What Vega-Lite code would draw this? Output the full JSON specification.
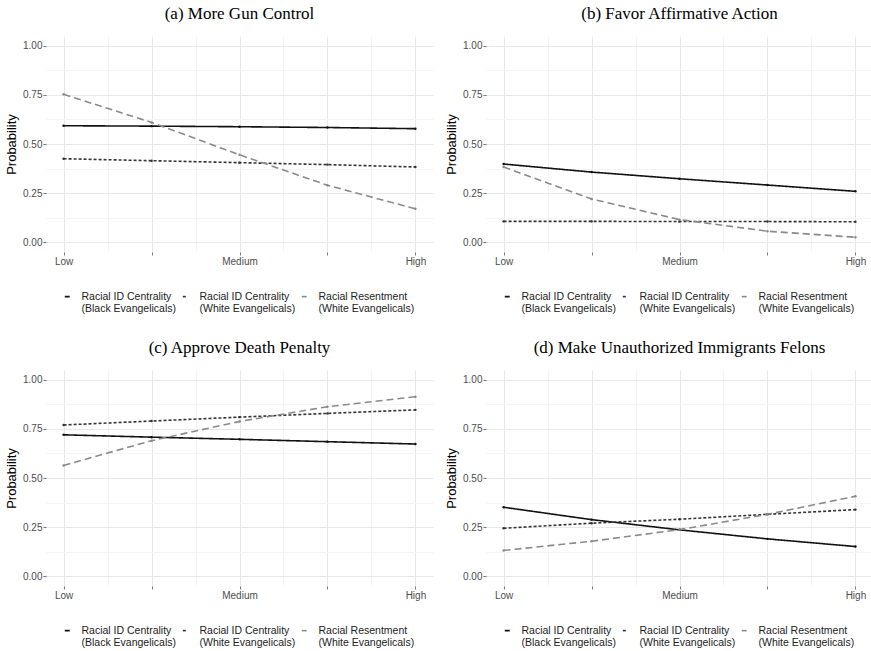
{
  "$schema": "https://vega.github.io/schema/vega-lite/v6.json",
  "padding": {"left": 5, "top": 5, "right": 0, "bottom": 0},
  "background": "white",
  "config": {
    "view": {"stroke": null},
    "title": {"font": "Liberation Serif", "fontSize": 17, "fontWeight": "normal", "color": "#000", "offset": 13},
    "axis": {"labelFont": "Liberation Sans", "labelFontSize": 10, "labelColor": "#4d4d4d", "titleFont": "Liberation Sans", "titleFontSize": 13, "titleFontWeight": "normal", "titleColor": "#000", "domain": false, "tickColor": "#777", "tickSize": 3, "labelOverlap": false, "labelFlush": false},
    "legend": {"symbolType": "stroke", "columnPadding": 2, "labelOffset": 9, "symbolSize": 24, "symbolStrokeWidth": 1.6, "labelFontSize": 10.5, "labelFont": "Liberation Sans", "labelColor": "#222", "labelLimit": 200, "padding": 0}
  },
  "data": {"values": [
    {"panel": "a", "level": 1, "series": "Racial ID Centrality|(Black Evangelicals)", "value": 0.593},
    {"panel": "a", "level": 2, "series": "Racial ID Centrality|(Black Evangelicals)", "value": 0.591},
    {"panel": "a", "level": 3, "series": "Racial ID Centrality|(Black Evangelicals)", "value": 0.588},
    {"panel": "a", "level": 4, "series": "Racial ID Centrality|(Black Evangelicals)", "value": 0.584},
    {"panel": "a", "level": 5, "series": "Racial ID Centrality|(Black Evangelicals)", "value": 0.578},
    {"panel": "a", "level": 1, "series": "Racial ID Centrality|(White Evangelicals)", "value": 0.425},
    {"panel": "a", "level": 2, "series": "Racial ID Centrality|(White Evangelicals)", "value": 0.415},
    {"panel": "a", "level": 3, "series": "Racial ID Centrality|(White Evangelicals)", "value": 0.405},
    {"panel": "a", "level": 4, "series": "Racial ID Centrality|(White Evangelicals)", "value": 0.395},
    {"panel": "a", "level": 5, "series": "Racial ID Centrality|(White Evangelicals)", "value": 0.383},
    {"panel": "a", "level": 1, "series": "Racial Resentment|(White Evangelicals)", "value": 0.753},
    {"panel": "a", "level": 2, "series": "Racial Resentment|(White Evangelicals)", "value": 0.61},
    {"panel": "a", "level": 3, "series": "Racial Resentment|(White Evangelicals)", "value": 0.445},
    {"panel": "a", "level": 4, "series": "Racial Resentment|(White Evangelicals)", "value": 0.29},
    {"panel": "a", "level": 5, "series": "Racial Resentment|(White Evangelicals)", "value": 0.17},
    {"panel": "b", "level": 1, "series": "Racial ID Centrality|(Black Evangelicals)", "value": 0.398},
    {"panel": "b", "level": 2, "series": "Racial ID Centrality|(Black Evangelicals)", "value": 0.357},
    {"panel": "b", "level": 3, "series": "Racial ID Centrality|(Black Evangelicals)", "value": 0.323},
    {"panel": "b", "level": 4, "series": "Racial ID Centrality|(Black Evangelicals)", "value": 0.291},
    {"panel": "b", "level": 5, "series": "Racial ID Centrality|(Black Evangelicals)", "value": 0.259},
    {"panel": "b", "level": 1, "series": "Racial ID Centrality|(White Evangelicals)", "value": 0.106},
    {"panel": "b", "level": 2, "series": "Racial ID Centrality|(White Evangelicals)", "value": 0.106},
    {"panel": "b", "level": 3, "series": "Racial ID Centrality|(White Evangelicals)", "value": 0.105},
    {"panel": "b", "level": 4, "series": "Racial ID Centrality|(White Evangelicals)", "value": 0.105},
    {"panel": "b", "level": 5, "series": "Racial ID Centrality|(White Evangelicals)", "value": 0.104},
    {"panel": "b", "level": 1, "series": "Racial Resentment|(White Evangelicals)", "value": 0.383},
    {"panel": "b", "level": 2, "series": "Racial Resentment|(White Evangelicals)", "value": 0.22},
    {"panel": "b", "level": 3, "series": "Racial Resentment|(White Evangelicals)", "value": 0.115},
    {"panel": "b", "level": 4, "series": "Racial Resentment|(White Evangelicals)", "value": 0.056},
    {"panel": "b", "level": 5, "series": "Racial Resentment|(White Evangelicals)", "value": 0.025},
    {"panel": "c", "level": 1, "series": "Racial ID Centrality|(Black Evangelicals)", "value": 0.72},
    {"panel": "c", "level": 2, "series": "Racial ID Centrality|(Black Evangelicals)", "value": 0.708},
    {"panel": "c", "level": 3, "series": "Racial ID Centrality|(Black Evangelicals)", "value": 0.697},
    {"panel": "c", "level": 4, "series": "Racial ID Centrality|(Black Evangelicals)", "value": 0.685},
    {"panel": "c", "level": 5, "series": "Racial ID Centrality|(Black Evangelicals)", "value": 0.673},
    {"panel": "c", "level": 1, "series": "Racial ID Centrality|(White Evangelicals)", "value": 0.77},
    {"panel": "c", "level": 2, "series": "Racial ID Centrality|(White Evangelicals)", "value": 0.79},
    {"panel": "c", "level": 3, "series": "Racial ID Centrality|(White Evangelicals)", "value": 0.81},
    {"panel": "c", "level": 4, "series": "Racial ID Centrality|(White Evangelicals)", "value": 0.829},
    {"panel": "c", "level": 5, "series": "Racial ID Centrality|(White Evangelicals)", "value": 0.847},
    {"panel": "c", "level": 1, "series": "Racial Resentment|(White Evangelicals)", "value": 0.564},
    {"panel": "c", "level": 2, "series": "Racial Resentment|(White Evangelicals)", "value": 0.69},
    {"panel": "c", "level": 3, "series": "Racial Resentment|(White Evangelicals)", "value": 0.788},
    {"panel": "c", "level": 4, "series": "Racial Resentment|(White Evangelicals)", "value": 0.863},
    {"panel": "c", "level": 5, "series": "Racial Resentment|(White Evangelicals)", "value": 0.914},
    {"panel": "d", "level": 1, "series": "Racial ID Centrality|(Black Evangelicals)", "value": 0.351},
    {"panel": "d", "level": 2, "series": "Racial ID Centrality|(Black Evangelicals)", "value": 0.288},
    {"panel": "d", "level": 3, "series": "Racial ID Centrality|(Black Evangelicals)", "value": 0.236},
    {"panel": "d", "level": 4, "series": "Racial ID Centrality|(Black Evangelicals)", "value": 0.19},
    {"panel": "d", "level": 5, "series": "Racial ID Centrality|(Black Evangelicals)", "value": 0.151},
    {"panel": "d", "level": 1, "series": "Racial ID Centrality|(White Evangelicals)", "value": 0.244},
    {"panel": "d", "level": 2, "series": "Racial ID Centrality|(White Evangelicals)", "value": 0.27},
    {"panel": "d", "level": 3, "series": "Racial ID Centrality|(White Evangelicals)", "value": 0.29},
    {"panel": "d", "level": 4, "series": "Racial ID Centrality|(White Evangelicals)", "value": 0.315},
    {"panel": "d", "level": 5, "series": "Racial ID Centrality|(White Evangelicals)", "value": 0.339},
    {"panel": "d", "level": 1, "series": "Racial Resentment|(White Evangelicals)", "value": 0.131},
    {"panel": "d", "level": 2, "series": "Racial Resentment|(White Evangelicals)", "value": 0.178},
    {"panel": "d", "level": 3, "series": "Racial Resentment|(White Evangelicals)", "value": 0.237},
    {"panel": "d", "level": 4, "series": "Racial Resentment|(White Evangelicals)", "value": 0.315},
    {"panel": "d", "level": 5, "series": "Racial Resentment|(White Evangelicals)", "value": 0.407}
  ]},
  "columns": 2,
  "spacing": {"row": 24, "column": 12},
  "resolve": {"scale": {"color": "independent", "strokeDash": "independent"}},
  "concat": [
    {
      "title": "(a) More Gun Control",
      "width": 387, "height": 216,
      "transform": [{"filter": "datum.panel == 'a'"}],
      "encoding": {
        "x": {"field": "level", "type": "quantitative", "scale": {"domain": [0.8, 5.2], "nice": false, "zero": false},
          "axis": {"title": null, "values": [1, 1.5, 2, 2.5, 3, 3.5, 4, 4.5, 5], "labelExpr": "datum.value == 1 ? 'Low' : datum.value == 3 ? 'Medium' : datum.value == 5 ? 'High' : ''", "labelPadding": 1,
            "tickOpacity": {"condition": {"test": "datum.value % 1 != 0", "value": 0}, "value": 1},
            "gridColor": {"condition": {"test": "datum.value % 1 != 0", "value": "#f4f4f4"}, "value": "#e8e8e8"}}},
        "y": {"field": "value", "type": "quantitative", "scale": {"domain": [-0.05, 1.05], "nice": false, "zero": false},
          "axis": {"title": "Probability", "values": [0, 0.125, 0.25, 0.375, 0.5, 0.625, 0.75, 0.875, 1], "labelExpr": "(datum.value * 4) % 1 == 0 ? format(datum.value, '.2f') : ''", "labelPadding": 1, "titlePadding": 4,
            "tickOpacity": {"condition": {"test": "(datum.value * 4) % 1 != 0", "value": 0}, "value": 1},
            "gridColor": {"condition": {"test": "(datum.value * 4) % 1 != 0", "value": "#f4f4f4"}, "value": "#e8e8e8"}}},
        "color": {"field": "series", "type": "nominal", "scale": {"domain": ["Racial ID Centrality|(Black Evangelicals)", "Racial ID Centrality|(White Evangelicals)", "Racial Resentment|(White Evangelicals)"], "range": ["#111111", "#333333", "#8a8a8a"]},
          "legend": {"title": null, "orient": "none", "legendX": 16, "legendY": 255, "direction": "horizontal", "labelExpr": "split(datum.label, '|')"}},
        "strokeDash": {"field": "series", "type": "nominal", "scale": {"domain": ["Racial ID Centrality|(Black Evangelicals)", "Racial ID Centrality|(White Evangelicals)", "Racial Resentment|(White Evangelicals)"], "range": [[1, 0], [3, 2], [7, 4]]},
          "legend": {"title": null, "orient": "none", "legendX": 16, "legendY": 255, "direction": "horizontal", "labelExpr": "split(datum.label, '|')"}}
      },
      "layer": [
        {"mark": {"type": "line", "strokeWidth": 1.6}},
        {"mark": {"type": "point", "filled": true, "size": 6, "opacity": 1}, "encoding": {"strokeDash": {"value": [1, 0]}}}
      ]
    },
    {
      "title": "(b) Favor Affirmative Action",
      "width": 387, "height": 216,
      "transform": [{"filter": "datum.panel == 'b'"}],
      "encoding": {
        "x": {"field": "level", "type": "quantitative", "scale": {"domain": [0.8, 5.2], "nice": false, "zero": false},
          "axis": {"title": null, "values": [1, 1.5, 2, 2.5, 3, 3.5, 4, 4.5, 5], "labelExpr": "datum.value == 1 ? 'Low' : datum.value == 3 ? 'Medium' : datum.value == 5 ? 'High' : ''", "labelPadding": 1,
            "tickOpacity": {"condition": {"test": "datum.value % 1 != 0", "value": 0}, "value": 1},
            "gridColor": {"condition": {"test": "datum.value % 1 != 0", "value": "#f4f4f4"}, "value": "#e8e8e8"}}},
        "y": {"field": "value", "type": "quantitative", "scale": {"domain": [-0.05, 1.05], "nice": false, "zero": false},
          "axis": {"title": "Probability", "values": [0, 0.125, 0.25, 0.375, 0.5, 0.625, 0.75, 0.875, 1], "labelExpr": "(datum.value * 4) % 1 == 0 ? format(datum.value, '.2f') : ''", "labelPadding": 1, "titlePadding": 4,
            "tickOpacity": {"condition": {"test": "(datum.value * 4) % 1 != 0", "value": 0}, "value": 1},
            "gridColor": {"condition": {"test": "(datum.value * 4) % 1 != 0", "value": "#f4f4f4"}, "value": "#e8e8e8"}}},
        "color": {"field": "series", "type": "nominal", "scale": {"domain": ["Racial ID Centrality|(Black Evangelicals)", "Racial ID Centrality|(White Evangelicals)", "Racial Resentment|(White Evangelicals)"], "range": ["#111111", "#333333", "#8a8a8a"]},
          "legend": {"title": null, "orient": "none", "legendX": 16, "legendY": 255, "direction": "horizontal", "labelExpr": "split(datum.label, '|')"}},
        "strokeDash": {"field": "series", "type": "nominal", "scale": {"domain": ["Racial ID Centrality|(Black Evangelicals)", "Racial ID Centrality|(White Evangelicals)", "Racial Resentment|(White Evangelicals)"], "range": [[1, 0], [3, 2], [7, 4]]},
          "legend": {"title": null, "orient": "none", "legendX": 16, "legendY": 255, "direction": "horizontal", "labelExpr": "split(datum.label, '|')"}}
      },
      "layer": [
        {"mark": {"type": "line", "strokeWidth": 1.6}},
        {"mark": {"type": "point", "filled": true, "size": 6, "opacity": 1}, "encoding": {"strokeDash": {"value": [1, 0]}}}
      ]
    },
    {
      "title": "(c) Approve Death Penalty",
      "width": 387, "height": 216,
      "transform": [{"filter": "datum.panel == 'c'"}],
      "encoding": {
        "x": {"field": "level", "type": "quantitative", "scale": {"domain": [0.8, 5.2], "nice": false, "zero": false},
          "axis": {"title": null, "values": [1, 1.5, 2, 2.5, 3, 3.5, 4, 4.5, 5], "labelExpr": "datum.value == 1 ? 'Low' : datum.value == 3 ? 'Medium' : datum.value == 5 ? 'High' : ''", "labelPadding": 1,
            "tickOpacity": {"condition": {"test": "datum.value % 1 != 0", "value": 0}, "value": 1},
            "gridColor": {"condition": {"test": "datum.value % 1 != 0", "value": "#f4f4f4"}, "value": "#e8e8e8"}}},
        "y": {"field": "value", "type": "quantitative", "scale": {"domain": [-0.05, 1.05], "nice": false, "zero": false},
          "axis": {"title": "Probability", "values": [0, 0.125, 0.25, 0.375, 0.5, 0.625, 0.75, 0.875, 1], "labelExpr": "(datum.value * 4) % 1 == 0 ? format(datum.value, '.2f') : ''", "labelPadding": 1, "titlePadding": 4,
            "tickOpacity": {"condition": {"test": "(datum.value * 4) % 1 != 0", "value": 0}, "value": 1},
            "gridColor": {"condition": {"test": "(datum.value * 4) % 1 != 0", "value": "#f4f4f4"}, "value": "#e8e8e8"}}},
        "color": {"field": "series", "type": "nominal", "scale": {"domain": ["Racial ID Centrality|(Black Evangelicals)", "Racial ID Centrality|(White Evangelicals)", "Racial Resentment|(White Evangelicals)"], "range": ["#111111", "#333333", "#8a8a8a"]},
          "legend": {"title": null, "orient": "none", "legendX": 16, "legendY": 255, "direction": "horizontal", "labelExpr": "split(datum.label, '|')"}},
        "strokeDash": {"field": "series", "type": "nominal", "scale": {"domain": ["Racial ID Centrality|(Black Evangelicals)", "Racial ID Centrality|(White Evangelicals)", "Racial Resentment|(White Evangelicals)"], "range": [[1, 0], [3, 2], [7, 4]]},
          "legend": {"title": null, "orient": "none", "legendX": 16, "legendY": 255, "direction": "horizontal", "labelExpr": "split(datum.label, '|')"}}
      },
      "layer": [
        {"mark": {"type": "line", "strokeWidth": 1.6}},
        {"mark": {"type": "point", "filled": true, "size": 6, "opacity": 1}, "encoding": {"strokeDash": {"value": [1, 0]}}}
      ]
    },
    {
      "title": "(d) Make Unauthorized Immigrants Felons",
      "width": 387, "height": 216,
      "transform": [{"filter": "datum.panel == 'd'"}],
      "encoding": {
        "x": {"field": "level", "type": "quantitative", "scale": {"domain": [0.8, 5.2], "nice": false, "zero": false},
          "axis": {"title": null, "values": [1, 1.5, 2, 2.5, 3, 3.5, 4, 4.5, 5], "labelExpr": "datum.value == 1 ? 'Low' : datum.value == 3 ? 'Medium' : datum.value == 5 ? 'High' : ''", "labelPadding": 1,
            "tickOpacity": {"condition": {"test": "datum.value % 1 != 0", "value": 0}, "value": 1},
            "gridColor": {"condition": {"test": "datum.value % 1 != 0", "value": "#f4f4f4"}, "value": "#e8e8e8"}}},
        "y": {"field": "value", "type": "quantitative", "scale": {"domain": [-0.05, 1.05], "nice": false, "zero": false},
          "axis": {"title": "Probability", "values": [0, 0.125, 0.25, 0.375, 0.5, 0.625, 0.75, 0.875, 1], "labelExpr": "(datum.value * 4) % 1 == 0 ? format(datum.value, '.2f') : ''", "labelPadding": 1, "titlePadding": 4,
            "tickOpacity": {"condition": {"test": "(datum.value * 4) % 1 != 0", "value": 0}, "value": 1},
            "gridColor": {"condition": {"test": "(datum.value * 4) % 1 != 0", "value": "#f4f4f4"}, "value": "#e8e8e8"}}},
        "color": {"field": "series", "type": "nominal", "scale": {"domain": ["Racial ID Centrality|(Black Evangelicals)", "Racial ID Centrality|(White Evangelicals)", "Racial Resentment|(White Evangelicals)"], "range": ["#111111", "#333333", "#8a8a8a"]},
          "legend": {"title": null, "orient": "none", "legendX": 16, "legendY": 255, "direction": "horizontal", "labelExpr": "split(datum.label, '|')"}},
        "strokeDash": {"field": "series", "type": "nominal", "scale": {"domain": ["Racial ID Centrality|(Black Evangelicals)", "Racial ID Centrality|(White Evangelicals)", "Racial Resentment|(White Evangelicals)"], "range": [[1, 0], [3, 2], [7, 4]]},
          "legend": {"title": null, "orient": "none", "legendX": 16, "legendY": 255, "direction": "horizontal", "labelExpr": "split(datum.label, '|')"}}
      },
      "layer": [
        {"mark": {"type": "line", "strokeWidth": 1.6}},
        {"mark": {"type": "point", "filled": true, "size": 6, "opacity": 1}, "encoding": {"strokeDash": {"value": [1, 0]}}}
      ]
    }
  ]
}
